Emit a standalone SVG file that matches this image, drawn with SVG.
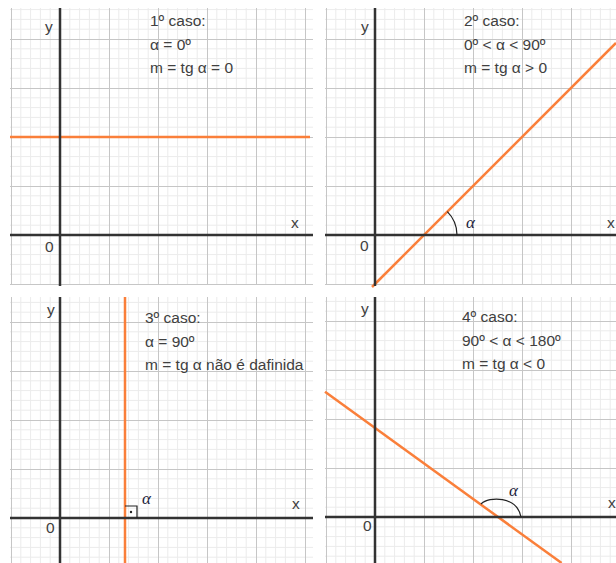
<svg xmlns="http://www.w3.org/2000/svg" width="616" height="563" viewBox="0 0 616 563">
<style>
  .t { font-family: "Liberation Sans", Arial, sans-serif; font-size: 15.5px; fill: #404040; }
  .ax { stroke: #333333; stroke-width: 2.5; fill: none; }
  .ln { stroke: #fa7f3a; stroke-width: 2.5; fill: none; }
  .arc { stroke: #222222; stroke-width: 1.2; fill: none; }
  .al { font-family: "Liberation Serif", "DejaVu Serif", serif; font-style: italic; font-size: 17px; fill: #1c1c3c; }
</style>
<defs>
  <pattern id="grid" width="49" height="49" patternUnits="userSpaceOnUse">
    <path d="M9.8 0V49M19.6 0V49M29.4 0V49M39.2 0V49M0 9.8H49M0 19.6H49M0 29.4H49M0 39.2H49" stroke="#ebebeb" stroke-width="1" fill="none"/>
    <path d="M0.5 0V49M0 0.5H49" stroke="#c6c6c6" stroke-width="1" fill="none"/>
  </pattern>
</defs>
<rect width="616" height="563" fill="#ffffff"/>

<g id="panel1" transform="translate(60,235)">
  <rect x="-50" y="-227" width="303" height="277" fill="url(#grid)"/>
  <line class="ln" x1="-50" y1="-98" x2="250" y2="-98"/>
  <line class="ax" x1="-50" y1="0" x2="253" y2="0"/>
  <line class="ax" x1="0" y1="-227" x2="0" y2="51"/>
  <text class="t" x="-15" y="-203">y</text>
  <text class="t" x="231" y="-7">x</text>
  <text class="t" x="-15" y="17">0</text>
  <text class="t" x="90" y="-209">1º caso:</text>
  <text class="t" x="90" y="-185.5">α = 0º</text>
  <text class="t" x="90" y="-162">m = tg α = 0</text>
</g>

<g id="panel2" transform="translate(375,235)">
  <rect x="-50" y="-227" width="291" height="277" fill="url(#grid)"/>
  <line class="ln" x1="-3" y1="52" x2="241" y2="-192"/>
  <line class="ax" x1="-50" y1="0" x2="241" y2="0"/>
  <line class="ax" x1="0" y1="-227" x2="0" y2="51"/>
  <path class="arc" d="M72.3,-23.3 A33,33 0 0 1 82,0"/>
  <text class="al" x="91" y="-7">α</text>
  <text class="t" x="-14" y="-203">y</text>
  <text class="t" x="232" y="-7">x</text>
  <text class="t" x="-15" y="16">0</text>
  <text class="t" x="89" y="-209">2º caso:</text>
  <text class="t" x="89" y="-185.5">0º &lt; α &lt; 90º</text>
  <text class="t" x="89" y="-162">m = tg α &gt; 0</text>
</g>

<g id="panel3" transform="translate(60,518)">
  <rect x="-50" y="-221" width="303" height="266" fill="url(#grid)"/>
  <line class="ln" x1="65" y1="-221" x2="65" y2="45"/>
  <line class="ax" x1="-50" y1="0" x2="253" y2="0"/>
  <line class="ax" x1="0" y1="-221" x2="0" y2="45"/>
  <path class="arc" d="M65,-12H77V0"/>
  <circle cx="71" cy="-6" r="1.2" fill="#222222"/>
  <text class="al" x="82" y="-14">α</text>
  <text class="t" x="-13" y="-203">y</text>
  <text class="t" x="232" y="-9">x</text>
  <text class="t" x="-14" y="15">0</text>
  <text class="t" x="85" y="-195">3º caso:</text>
  <text class="t" x="85" y="-171">α = 90º</text>
  <text class="t" x="85" y="-148">m = tg α não é dafinida</text>
</g>

<g id="panel4" transform="translate(375,517)">
  <rect x="-50" y="-220" width="291" height="266" fill="url(#grid)"/>
  <line class="ln" x1="-50" y1="-125.2" x2="186.6" y2="46"/>
  <line class="ax" x1="-50" y1="0" x2="241" y2="0"/>
  <line class="ax" x1="0" y1="-220" x2="0" y2="46"/>
  <path class="arc" d="M106,-13 C114,-21 142,-21 146,0"/>
  <text class="al" x="134" y="-21">α</text>
  <text class="t" x="-14" y="-203">y</text>
  <text class="t" x="233" y="-9">x</text>
  <text class="t" x="-12" y="14">0</text>
  <text class="t" x="87" y="-195">4º caso:</text>
  <text class="t" x="87" y="-171">90º &lt; α &lt; 180º</text>
  <text class="t" x="87" y="-148">m = tg α &lt; 0</text>
</g>
</svg>
